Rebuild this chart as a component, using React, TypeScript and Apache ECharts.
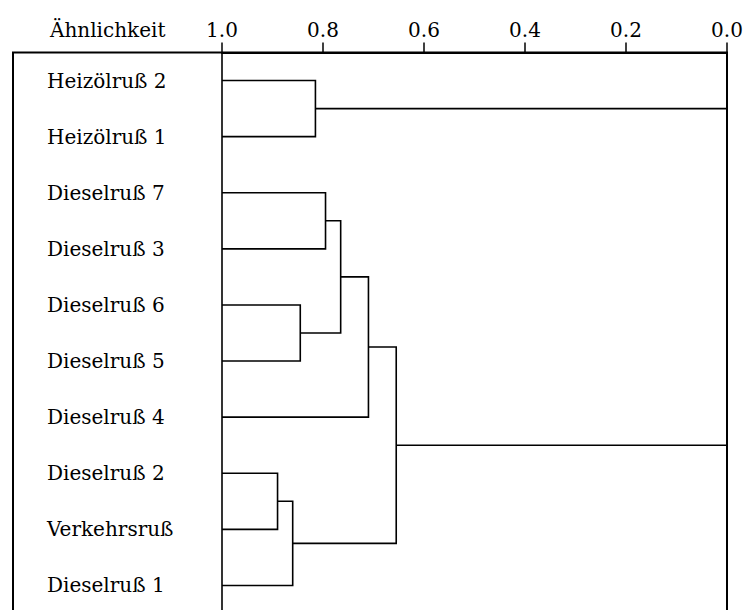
import React, { useEffect, useRef } from "react";
import * as echarts from "echarts";

// Leaf labels, top to bottom
const leaves: string[] = [
  "Heizölruß 2",
  "Heizölruß 1",
  "Dieselruß 7",
  "Dieselruß 3",
  "Dieselruß 6",
  "Dieselruß 5",
  "Dieselruß 4",
  "Dieselruß 2",
  "Verkehrsruß",
  "Dieselruß 1",
];

// Linkage: nodes 0..9 are leaves, each merge creates node 10, 11, ...
const mergeLeft: number[] = [0, 2, 4, 11, 13, 7, 15, 14, 10];
const mergeRight: number[] = [1, 3, 5, 12, 6, 8, 9, 16, 17];
const mergeSimilarity: number[] = [0.815, 0.795, 0.845, 0.765, 0.71, 0.89, 0.86, 0.655, 0.0];

const axisTicks: number[] = [1.0, 0.8, 0.6, 0.4, 0.2, 0.0];
const axisTitle = "Ähnlichkeit";

const FONT = "'DejaVu Serif', 'Liberation Serif', serif";

function buildLinks(): number[][] {
  const nodeX: number[] = leaves.map(() => 1.0);
  const nodeY: number[] = leaves.map((_, i) => i);
  const links: number[][] = [];
  mergeLeft.forEach((a, k) => {
    const b = mergeRight[k];
    const h = mergeSimilarity[k];
    links.push([nodeX[a], nodeY[a], h, nodeX[b], nodeY[b]]);
    nodeX.push(h);
    nodeY.push((nodeY[a] + nodeY[b]) / 2);
  });
  return links;
}

export default function App() {
  const ref = useRef<HTMLDivElement>(null);

  useEffect(() => {
    if (!ref.current) return;
    const chart = echarts.init(ref.current, null, { renderer: "svg" });
    const links = buildLinks();

    chart.setOption({
      animation: false,
      backgroundColor: "#ffffff",
      grid: {
        left: 222,
        right: 16,
        top: 52.5,
        height: 561,
        containLabel: false,
        outerBoundsMode: "none",
      },
      xAxis: {
        type: "value",
        position: "top",
        inverse: true,
        min: 0,
        max: 1,
        interval: 0.2,
        axisLine: { show: true, onZero: false, lineStyle: { color: "#000", width: 2 } },
        axisTick: { show: true, inside: false, length: 10, lineStyle: { color: "#000", width: 1.5 } },
        splitLine: { show: false },
        axisLabel: {
          margin: 13,
          color: "#000",
          fontFamily: FONT,
          fontSize: 20,
          formatter: (v: number) =>
            axisTicks.some((t) => Math.abs(t - v) < 1e-6) ? v.toFixed(1) : "",
        },
      },
      yAxis: [
        {
          type: "category",
          data: leaves,
          inverse: true,
          position: "left",
          axisLine: { show: true, onZero: false, lineStyle: { color: "#000", width: 1.6 } },
          axisTick: { show: false },
          splitLine: { show: false },
          axisLabel: {
            margin: 175,
            align: "left",
            color: "#000",
            fontFamily: FONT,
            fontSize: 20,
          },
        },
        {
          type: "value",
          inverse: true,
          min: -0.5,
          max: 9.5,
          show: false,
          axisLine: { onZero: false },
          splitLine: { show: false },
        },
      ],
      graphic: [
        {
          type: "rect",
          shape: { x: 13, y: 52.5, width: 714, height: 600 },
          style: { fill: "none", stroke: "#000", lineWidth: 2 },
          silent: true,
        },
        {
          type: "text",
          x: 50,
          y: 40,
          style: {
            text: axisTitle,
            fill: "#000",
            font: `20px ${FONT}`,
            verticalAlign: "bottom",
            align: "left",
          },
        },
      ],
      series: [
        {
          type: "custom",
          coordinateSystem: "cartesian2d",
          yAxisIndex: 1,
          data: links,
          encode: { x: [0, 2, 3], y: [1, 4] },
          renderItem: (_params: any, api: any) => {
            const xa = api.value(0);
            const ya = api.value(1);
            const h = api.value(2);
            const xb = api.value(3);
            const yb = api.value(4);
            const pts = [
              api.coord([xa, ya]),
              api.coord([h, ya]),
              api.coord([h, yb]),
              api.coord([xb, yb]),
            ];
            return {
              type: "polyline",
              shape: { points: pts },
              style: { stroke: "#000", lineWidth: 1.6, fill: "none" },
            };
          },
        },
      ],
    });

    return () => chart.dispose();
  }, []);

  return (
    <div
      ref={ref}
      style={{ position: "absolute", left: 0, top: 0, width: 743, height: 610 }}
    />
  );
}
